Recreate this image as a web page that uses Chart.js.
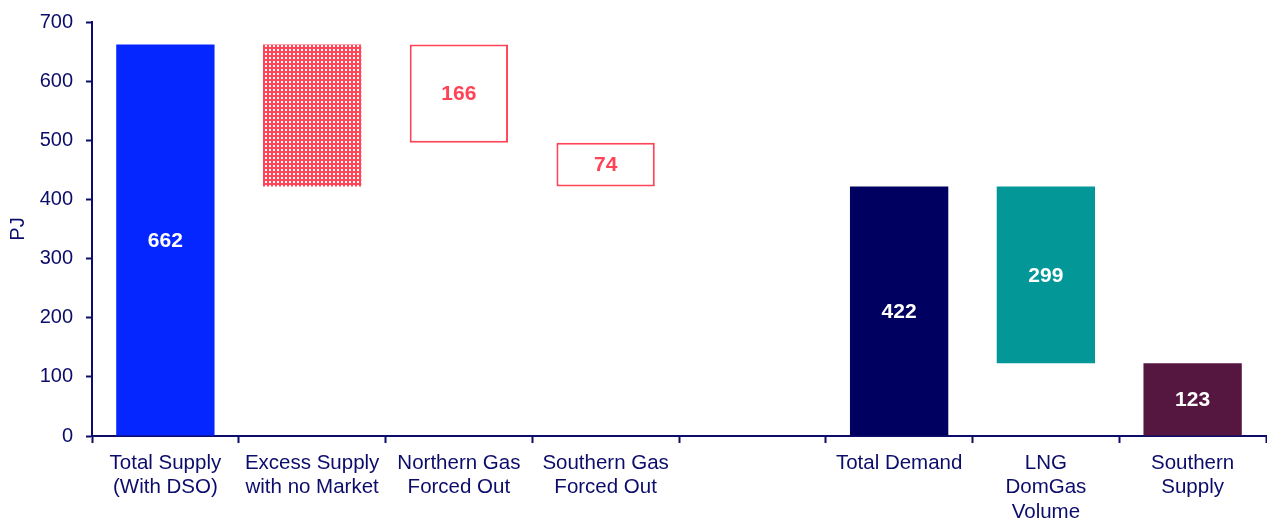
<!DOCTYPE html>
<html>
<head>
<meta charset="utf-8">
<script src="https://cdn.jsdelivr.net/npm/chart.js@4.4.1/dist/chart.umd.min.js"></script>
<style>
  html, body { margin: 0; padding: 0; background: #fff; }
  #wrap { width: 1267px; height: 523px; }
</style>
</head>
<body>
<div id="wrap"><canvas id="gasChart"></canvas></div>
<script>
const categories = [
    ["Total Supply", "(With DSO)"],
    ["Excess Supply", "with no Market"],
    ["Northern Gas", "Forced Out"],
    ["Southern Gas", "Forced Out"],
    "",
    "Total Demand",
    ["LNG", "DomGas", "Volume"],
    ["Southern", "Supply"]
];
// PJ amounts, and where each floating bar starts
const amounts = [662, 240, 166, 74, null, 422, 299, 123];
const bases = [0, 422, 496, 422, null, 0, 123, 0];
const showLabel = [true, false, true, true, false, true, true, true];
const yTicks = [0, 100, 200, 300, 400, 500, 600, 700];

const NAVY = '#0c0c6b';
const RED = '#ff4458';

// dotted fill for the excess supply bar
function dotPattern() {
    const c = document.createElement('canvas');
    c.width = 4; c.height = 4;
    const g = c.getContext('2d');
    g.fillStyle = RED;
    g.fillRect(0, 0, 4, 4);
    g.fillStyle = '#ffffff';
    g.fillRect(1, 1, 2, 2);
    return g.createPattern(c, 'repeat');
}

const fills = ['#0526ff', dotPattern(), '#ffffff', '#ffffff', null, '#000060', '#039797', '#55163f'];
const borders = ['#0526ff', RED, RED, RED, null, '#000060', '#039797', '#55163f'];
const borderWidths = [0, 0, 2, 2, 0, 0, 0, 0];
const labelColors = ['#fff', '#fff', RED, RED, '#fff', '#fff', '#fff', '#fff'];

const ranges = amounts.map((v, i) => v == null ? null : [bases[i], bases[i] + v]);

const valueLabels = {
    id: 'valueLabels',
    afterDatasetsDraw(chart) {
        const ctx = chart.ctx;
        const meta = chart.getDatasetMeta(0);
        ctx.save();
        ctx.font = 'bold 21px "Liberation Sans", Arial, sans-serif';
        ctx.textAlign = 'center';
        ctx.textBaseline = 'middle';
        meta.data.forEach((bar, i) => {
            if (!showLabel[i] || amounts[i] == null) return;
            ctx.fillStyle = labelColors[i];
            ctx.fillText(String(amounts[i]), bar.x, (bar.y + bar.base) / 2 + 1);
        });
        ctx.restore();
    }
};

new Chart(document.getElementById('gasChart'), {
    type: 'bar',
    data: {
        labels: categories,
        datasets: [{
            data: ranges,
            backgroundColor: fills,
            borderColor: borders,
            borderWidth: borderWidths,
            borderSkipped: false,
            barPercentage: 1,
            categoryPercentage: 0.67
        }]
    },
    options: {
        responsive: true,
        maintainAspectRatio: false,
        animation: false,
        layout: { padding: { top: 0, right: 1, left: 0, bottom: 0 } },
        plugins: {
            legend: { display: false },
            tooltip: { enabled: false }
        },
        scales: {
            x: {
                grid: {
                    offset: true,
                    drawOnChartArea: false,
                    drawTicks: true,
                    tickLength: 7,
                    tickWidth: 2,
                    color: NAVY
                },
                border: { color: NAVY, width: 2 },
                ticks: {
                    color: NAVY,
                    autoSkip: false,
                    maxRotation: 0,
                    padding: 8,
                    font: { family: '"Liberation Sans", Arial, sans-serif', size: 20.5, lineHeight: 1.19 }
                },
                afterFit(scale) { scale.height = 87; }
            },
            y: {
                min: 0,
                max: 700,
                afterBuildTicks(scale) { scale.ticks = yTicks.map(v => ({ value: v })); },
                grid: {
                    drawOnChartArea: false,
                    drawTicks: true,
                    tickLength: 6,
                    tickWidth: 2,
                    color: NAVY
                },
                border: { color: NAVY, width: 2 },
                ticks: {
                    color: NAVY,
                    padding: 13,
                    font: { family: '"Liberation Sans", Arial, sans-serif', size: 20 }
                },
                title: {
                    display: true,
                    text: 'PJ',
                    color: NAVY,
                    padding: { top: 6, bottom: 0 },
                    font: { family: '"Liberation Sans", Arial, sans-serif', size: 20 }
                },
                afterFit(scale) {
                    scale.width = 92;
                    // top of the plot sits 22px below the canvas edge
                    scale.paddingTop = 22;
                }
            }
        }
    },
    plugins: [valueLabels]
});
</script>
</body>
</html>
